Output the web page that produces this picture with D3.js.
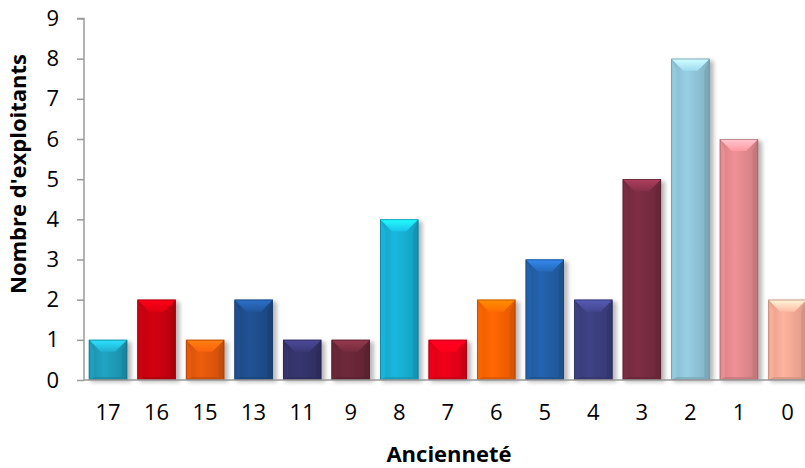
<!DOCTYPE html>
<html>
<head>
<meta charset="utf-8">
<script src="https://cdn.jsdelivr.net/npm/d3@7"></script>
<style>
html,body{margin:0;padding:0;background:#fff;}
svg{display:block;}
text{font-family:"Open Sans","Liberation Sans",sans-serif;fill:#000;}
</style>
</head>
<body>
<svg id="chart" width="805" height="468"></svg>
<script>
const categories = ["17","16","15","13","11","9","8","7","6","5","4","3","2","1","0"];
const values = [1,2,1,2,1,1,4,1,2,3,2,5,8,6,2];
const colors = ["#1e9fbc","#cc0010","#e55a0c","#1f4f8f","#35346c","#6a2838",
                "#18b2d6","#ea0018","#ff6400","#2360a9","#3d4080","#7a2c42",
                "#92c8dc","#e88c92","#f9ad98"];
const yTicks = [0,1,2,3,4,5,6,7,8,9];
const xTitle = "Ancienneté";
const yTitle = "Nombre d'exploitants";

const svg = d3.select("#chart");
const x0 = 84, yBase = 380, yTop = 18.5;

const x = d3.scaleBand().domain(categories).range([x0, 811.5]).paddingInner(0.21).paddingOuter(0.1);
const y = d3.scaleLinear().domain([0, 9]).range([yBase, yTop]);

const defs = svg.append("defs");
const f = defs.append("filter").attr("id","shadow").attr("x","-30%").attr("y","-30%").attr("width","160%").attr("height","160%");
f.append("feGaussianBlur").attr("stdDeviation", 2.2);

// shadows
svg.append("g").selectAll("rect").data(values).join("rect")
  .attr("x", (d,i) => x(categories[i]) + 2)
  .attr("y", d => y(d) + 2)
  .attr("width", x.bandwidth() + 2)
  .attr("height", d => yBase - y(d))
  .attr("fill", "#000").attr("opacity", 0.28)
  .attr("filter", "url(#shadow)");

// bars
const bars = svg.append("g").selectAll("g").data(values).join("g");
bars.each(function(d, i) {
  const g = d3.select(this);
  const c = d3.color(colors[i]);
  const bx = x(categories[i]), bw = x.bandwidth();
  const by = y(d), bh = yBase - y(d);
  const b = Math.min(12, bh / 2.5);
  const gid = "g" + i;
  const lg = defs.append("linearGradient").attr("id", gid).attr("x1",0).attr("x2",1).attr("y1",0).attr("y2",0);
  lg.append("stop").attr("offset","0%").attr("stop-color", c.darker(0.25));
  lg.append("stop").attr("offset","40%").attr("stop-color", c.brighter(0.1));
  lg.append("stop").attr("offset","100%").attr("stop-color", c.darker(0.35));
  g.append("rect").attr("x", bx).attr("y", by).attr("width", bw).attr("height", bh)
    .attr("fill", `url(#${gid})`);
  // top bevel
  const tg = "t" + i;
  const lt = defs.append("linearGradient").attr("id", tg).attr("x1",0).attr("x2",0).attr("y1",0).attr("y2",1);
  lt.append("stop").attr("offset","0%").attr("stop-color", c.brighter(1.0));
  lt.append("stop").attr("offset","100%").attr("stop-color", c.brighter(0.25));
  g.append("polygon")
    .attr("points", [[bx,by],[bx+bw,by],[bx+bw-b,by+b],[bx+b,by+b]].map(p=>p.join(",")).join(" "))
    .attr("fill", `url(#${tg})`);
  // left bevel
  g.append("polygon")
    .attr("points", [[bx,by],[bx+b*0.45,by+b],[bx+b*0.45,yBase-2],[bx,yBase]].map(p=>p.join(",")).join(" "))
    .attr("fill", c.brighter(0.15)).attr("opacity", 0.6);
  // right bevel
  g.append("polygon")
    .attr("points", [[bx+bw,by],[bx+bw-b*0.45,by+b],[bx+bw-b*0.45,yBase-2],[bx+bw,yBase]].map(p=>p.join(",")).join(" "))
    .attr("fill", c.darker(0.6)).attr("opacity", 0.6);
  // bottom bevel
  g.append("polygon")
    .attr("points", [[bx,yBase],[bx+b*0.45,yBase-3],[bx+bw-b*0.45,yBase-3],[bx+bw,yBase]].map(p=>p.join(",")).join(" "))
    .attr("fill", c.darker(0.5)).attr("opacity", 0.7);
  // outline
  g.append("rect").attr("x", bx+0.4).attr("y", by+0.4).attr("width", bw-0.8).attr("height", bh-0.8)
    .attr("fill","none").attr("stroke", c.darker(1.2)).attr("stroke-width",0.8).attr("opacity",0.7);
});

// y axis
const yAxis = svg.append("g").attr("transform", `translate(${x0},0)`)
  .call(d3.axisLeft(y).tickValues(yTicks).tickSize(7).tickPadding(18).tickFormat(d3.format("d")));
yAxis.select(".domain").attr("stroke","#9a9a9a").attr("stroke-width",1.5).attr("d", `M-7,${yTop}H0V${yBase}`);
yAxis.selectAll(".tick line").attr("stroke","#9a9a9a").attr("stroke-width",1.5);
yAxis.selectAll(".tick text").attr("font-size", 22).attr("font-family", '"Open Sans",sans-serif').attr("fill","#000");

// x axis
const xAxis = svg.append("g").attr("transform", `translate(0,${yBase})`)
  .call(d3.axisBottom(x).tickSize(0).tickPadding(24));
xAxis.select(".domain").attr("stroke","#9a9a9a").attr("stroke-width",1.5).attr("d", `M${x0},0H805`);
xAxis.selectAll(".tick text").attr("font-size", 22).attr("font-family", '"Open Sans",sans-serif').attr("fill","#000");

// titles
svg.append("text").attr("x", 449).attr("y", 462).attr("text-anchor","middle")
  .attr("font-size", 22).attr("font-weight","bold").text(xTitle);
svg.append("text").attr("transform", "translate(26,174) rotate(-90)").attr("text-anchor","middle")
  .attr("font-size", 22).attr("font-weight","bold").text(yTitle);
</script>
</body>
</html>
